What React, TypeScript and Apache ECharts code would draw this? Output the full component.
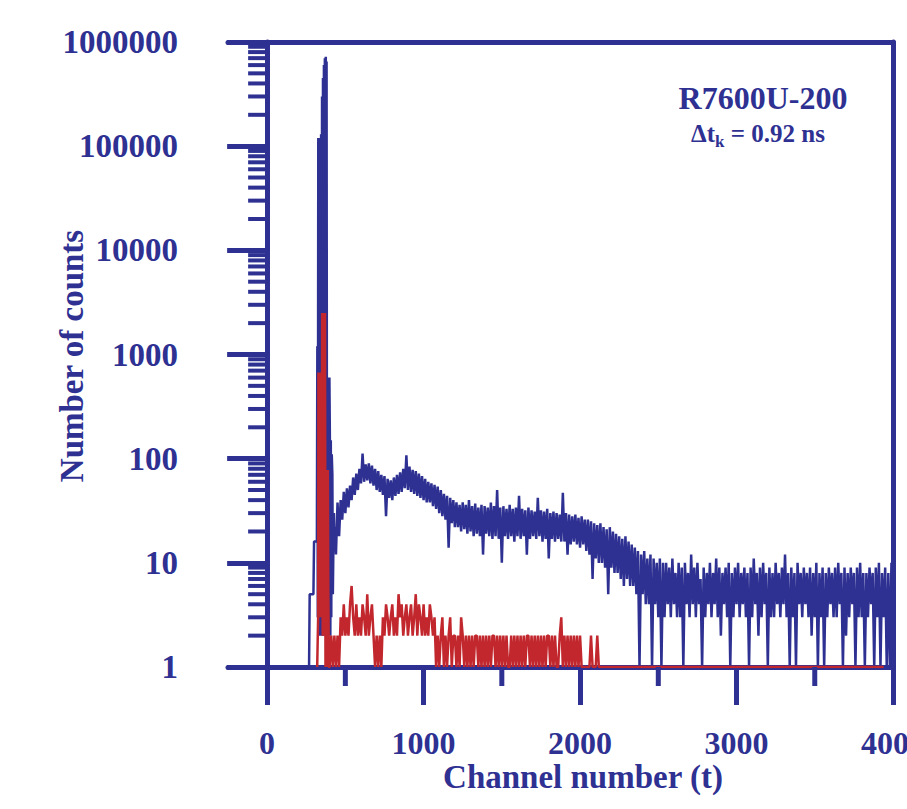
import React, { useEffect, useRef } from "react";
import * as echarts from "echarts";

const BLUE = "#2e3192";
const RED = "#c1272d";
const FONT = '"Liberation Serif", "Times New Roman", serif';
const FONT_NAME = "Liberation Serif";

// Axis ticks / labels
const xMajorTicks = [0, 1000, 2000, 3000, 4000];
const xMinorTicks = [500, 1500, 2500, 3500];
const yDecades = [1, 10, 100, 1000, 10000, 100000];
const yMinorMultipliers = [2, 3, 4, 5, 6, 7, 8, 9];
const yTickLabels = ["1", "10", "100", "1000", "10000", "100000", "1000000"];

// Blue (R7600U-200, total) : explicit points around the prompt peak
const bluePeakChannels = [
  0, 268, 272, 296, 300, 318, 321, 324, 327, 330, 333, 336, 339, 342, 345, 348, 351, 354, 357, 360,
  363, 366, 369, 372, 375, 378, 380, 383, 386, 389, 392, 395, 398, 401, 404, 407, 410, 413, 417, 420,
  423, 427, 431, 435,
];
const bluePeakCounts = [
  1, 1, 5, 5, 16, 16, 1200, 3, 120000, 2, 120000, 3, 120000, 2, 130000, 3, 300000, 2, 450000, 3,
  600000, 2, 700000, 3, 720000, 2, 650000, 3, 600, 2, 600, 3, 600, 160, 2, 150, 3, 110, 70, 5,
  12, 30, 14, 22,
];

// Blue tail: channels 440, 450, ... 4000
const blueTailStart = 440;
const blueTailStep = 10;
const blueTailCounts = [
  12, 38, 18, 40, 26, 48, 30, 52, 34, 55,
  40, 66, 45, 72, 50, 80, 58, 112, 60, 88,
  62, 90, 58, 86, 55, 80, 50, 76, 48, 70,
  45, 68, 28, 64, 42, 62, 40, 66, 44, 70,
  46, 74, 48, 80, 52, 108, 50, 84, 48, 78,
  46, 76, 44, 72, 42, 68, 40, 64, 38, 60,
  38, 58, 35, 56, 33, 54, 30, 50, 28, 46,
  26, 44, 14, 42, 24, 40, 22, 38, 22, 36,
  20, 38, 21, 36, 19, 40, 20, 35, 18, 37,
  19, 34, 18, 36, 12, 35, 19, 34, 18, 38,
  17, 35, 18, 50, 17, 34, 10, 35, 18, 33,
  17, 36, 18, 33, 16, 34, 18, 44, 17, 33,
  18, 32, 12, 34, 17, 32, 18, 31, 17, 42,
  18, 32, 16, 31, 17, 33, 11, 30, 17, 31,
  16, 30, 17, 29, 16, 47, 16, 30, 12, 29,
  15, 28, 16, 29, 15, 27, 14, 28, 15, 26,
  13, 26, 12, 25, 7, 24, 11, 23, 10, 24,
  10, 22, 9, 21, 5, 22, 9, 20, 8, 19,
  8, 18, 7, 17, 6, 18, 7, 16, 6, 15,
  6, 14, 5, 13, 1, 12, 5, 13, 4, 11,
  4, 12, 1, 11, 4, 10, 3, 11, 1, 10,
  3, 10, 4, 9, 3, 11, 4, 8, 3, 10,
  3, 9, 1, 10, 4, 8, 3, 12, 4, 9,
  3, 10, 4, 7, 1, 9, 3, 8, 4, 10,
  3, 8, 4, 11, 3, 9, 2, 8, 4, 9,
  3, 10, 1, 8, 3, 9, 4, 10, 3, 8,
  4, 9, 3, 8, 1, 9, 3, 11, 4, 8,
  2, 9, 3, 10, 4, 8, 1, 9, 3, 8,
  3, 10, 4, 8, 3, 9, 4, 12, 3, 8,
  1, 9, 3, 8, 1, 10, 4, 8, 3, 9,
  4, 8, 3, 9, 2, 8, 3, 10, 1, 8,
  3, 9, 1, 8, 3, 9, 4, 8, 3, 9,
  3, 10, 4, 8, 1, 9, 2, 8, 3, 9,
  4, 8, 1, 9, 3, 10, 3, 8, 1, 8,
  3, 9, 4, 8, 1, 9, 3, 10, 1, 8,
  3, 9, 1, 8, 1, 10, 3,
];

// Red (coincidence / background) : explicit peak points
const redPeakChannels = [
  320, 326, 328, 331, 334, 337, 340, 343, 346, 349, 352, 355, 358, 361, 364, 367, 370, 373, 376, 379,
  382, 385, 388, 391, 395,
];
const redPeakCounts = [
  1, 3, 670, 3, 670, 3, 670, 3, 670, 3, 2500, 2, 2500, 2, 2500, 2, 2500, 1, 78, 1,
  78, 1, 78, 5, 1,
];

// Red tail: channels 400, 410, ... 2130 then flat to the end
const redTailStart = 400;
const redTailStep = 10;
const redTailCounts = [
  1, 2, 1, 2, 1, 2, 1, 3, 2, 4,
  2, 3, 2, 4, 6, 3, 2, 4, 2, 3,
  2, 4, 3, 2, 5, 2, 3, 4, 2, 1,
  2, 1, 2, 1, 3, 2, 4, 3, 2, 3,
  4, 2, 3, 2, 5, 3, 4, 2, 3, 4,
  2, 3, 4, 2, 3, 5, 2, 4, 3, 2,
  4, 2, 3, 2, 4, 3, 2, 3, 1, 2,
  1, 2, 3, 1, 2, 1, 2, 3, 1, 2,
  2, 1, 2, 1, 3, 2, 1, 2, 1, 2,
  1, 2, 1, 2, 2, 1, 2, 1, 2, 1,
  2, 1, 2, 1, 2, 2, 1, 2, 1, 2,
  1, 2, 1, 2, 1, 1, 2, 1, 2, 1,
  2, 1, 2, 1, 2, 1, 2, 2, 1, 2,
  1, 2, 1, 2, 1, 2, 1, 2, 1, 2,
  2, 1, 2, 1, 2, 1, 1, 2, 3, 1,
  2, 1, 2, 1, 2, 1, 2, 1, 2, 1,
  2, 1, 1, 1, 1, 1, 1, 2, 1, 1,
  1, 2, 1, 1,
];
const redEndChannel = 3940;
const redEndCount = 1;

const titleText = "R7600U-200";
const xAxisName = "Channel number (t)";
const yAxisName = "Number of counts";

export default function App() {
  const ref = useRef<HTMLDivElement>(null);

  useEffect(() => {
    if (!ref.current) return;
    const chart = echarts.init(ref.current, undefined, { renderer: "svg" });

    const blueData = [
      ...bluePeakChannels.map((c, i) => [c, bluePeakCounts[i]]),
      ...blueTailCounts.map((v, i) => [blueTailStart + i * blueTailStep, v]),
    ];
    const redData = [
      ...redPeakChannels.map((c, i) => [c, redPeakCounts[i]]),
      ...redTailCounts.map((v, i) => [redTailStart + i * redTailStep, v]),
      [redEndChannel, redEndCount],
    ];
    const yMinorValues: number[] = [];
    yDecades.forEach((d) => yMinorMultipliers.forEach((m) => yMinorValues.push(d * m)));

    const labelStyle = {
      color: BLUE,
      fontFamily: FONT_NAME,
      fontWeight: "bold" as const,
    };

    chart.setOption({
      animation: false,
      grid: {
        left: 228,
        right: 14,
        top: 42,
        bottom: 142,
        containLabel: false,
        outerBoundsMode: "none",
      },
      xAxis: [
        {
          type: "value",
          min: -250,
          max: 4000,
          position: "bottom",
          axisLine: { onZero: false, lineStyle: { color: BLUE, width: 5 } },
          axisTick: { customValues: xMajorTicks, length: 38, inside: false, lineStyle: { color: BLUE, width: 5 } },
          axisLabel: {
            customValues: xMajorTicks,
            margin: 60,
            fontSize: 32,
            ...labelStyle,
            formatter: (v: number) => String(v),
          },
          splitLine: { show: false },
        },
        {
          type: "value",
          min: -250,
          max: 4000,
          position: "top",
          axisLine: { onZero: false, lineStyle: { color: BLUE, width: 5 } },
          axisTick: { show: false },
          axisLabel: { show: false },
          splitLine: { show: false },
        },
      ],
      yAxis: [
        {
          type: "log",
          logBase: 10,
          min: 1,
          max: 1000000,
          splitNumber: 6,
          axisLine: { onZero: true, lineStyle: { color: BLUE, width: 5 } },
          axisTick: { length: 40, inside: false, lineStyle: { color: BLUE, width: 5 } },
          axisLabel: {
            margin: 50,
            fontSize: 33,
            ...labelStyle,
            formatter: (v: number) => yTickLabels[Math.round(Math.log10(v))],
          },
          splitLine: { show: false },
        },
        {
          type: "log",
          logBase: 10,
          min: 1,
          max: 1000000,
          position: "right",
          axisLine: { onZero: false, lineStyle: { color: BLUE, width: 5 } },
          axisTick: { show: false },
          axisLabel: { show: false },
          splitLine: { show: false },
        },
      ],
      series: [
        {
          type: "line",
          data: blueData,
          showSymbol: false,
          symbol: "none",
          lineStyle: { color: BLUE, width: 2.5 },
          z: 2,
        },
        {
          type: "line",
          data: redData,
          showSymbol: false,
          symbol: "none",
          lineStyle: { color: RED, width: 2.5 },
          z: 3,
        },
        {
          type: "custom",
          coordinateSystem: "cartesian2d",
          xAxisIndex: 0,
          yAxisIndex: 0,
          clip: false,
          silent: true,
          z: 4,
          data: yMinorValues.map((v) => [0, v]),
          renderItem: (_p: any, api: any) => {
            const pt = api.coord([api.value(0), api.value(1)]);
            return {
              type: "line",
              shape: { x1: pt[0] - 19, y1: pt[1], x2: pt[0], y2: pt[1] },
              style: { stroke: BLUE, lineWidth: 4 },
            };
          },
        },
        {
          type: "custom",
          coordinateSystem: "cartesian2d",
          xAxisIndex: 0,
          yAxisIndex: 0,
          clip: false,
          silent: true,
          z: 4,
          data: xMinorTicks.map((v) => [v, 1]),
          renderItem: (_p: any, api: any) => {
            const pt = api.coord([api.value(0), api.value(1)]);
            return {
              type: "line",
              shape: { x1: pt[0], y1: pt[1], x2: pt[0], y2: pt[1] + 19 },
              style: { stroke: BLUE, lineWidth: 5 },
            };
          },
        },
      ],
      graphic: [
        {
          type: "text",
          x: 763,
          y: 98,
          style: {
            text: titleText,
            fill: BLUE,
            font: `bold 32px ${FONT}`,
            align: "center",
            verticalAlign: "middle",
            textAlign: "center",
            textVerticalAlign: "middle",
          },
        },
        {
          type: "text",
          x: 758,
          y: 133,
          style: {
            text: "{a|Δt}{s|k}{a| = 0.92 ns}",
            fill: BLUE,
            align: "center",
            verticalAlign: "middle",
            textAlign: "center",
            textVerticalAlign: "middle",
            rich: {
              a: { fontFamily: FONT_NAME, fontWeight: "bold", fontSize: 25, fill: BLUE, lineHeight: 26 },
              s: { fontFamily: FONT_NAME, fontWeight: "bold", fontSize: 17, fill: BLUE, lineHeight: 26, padding: [16, 0, 0, 0] },
            },
          },
        },
        {
          type: "text",
          x: 583,
          y: 777,
          style: {
            text: xAxisName,
            fill: BLUE,
            font: `bold 33px ${FONT}`,
            align: "center",
            verticalAlign: "middle",
            textAlign: "center",
            textVerticalAlign: "middle",
          },
        },
        {
          type: "text",
          x: 72,
          y: 356,
          rotation: Math.PI / 2,
          style: {
            text: yAxisName,
            fill: BLUE,
            font: `bold 33px ${FONT}`,
            align: "center",
            verticalAlign: "middle",
            textAlign: "center",
            textVerticalAlign: "middle",
          },
        },
      ],
    });

    return () => chart.dispose();
  }, []);

  return (
    <div
      ref={ref}
      style={{ position: "fixed", left: 0, top: 0, width: 907, height: 809, background: "#fff" }}
    />
  );
}
